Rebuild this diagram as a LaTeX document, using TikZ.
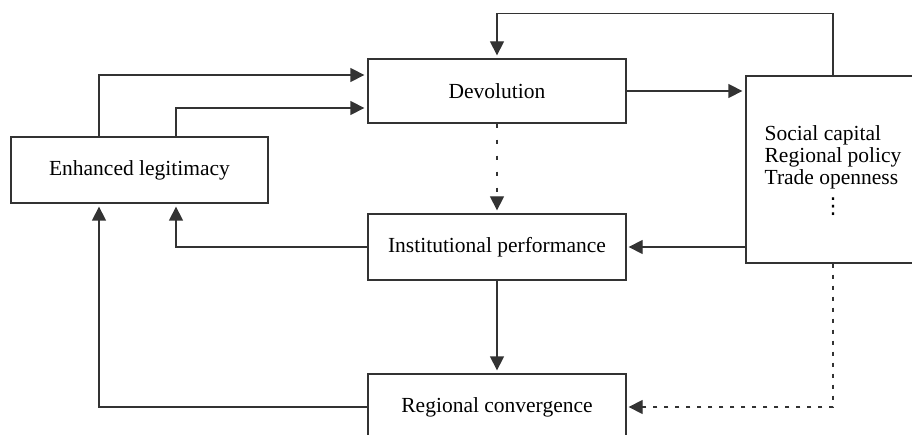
\documentclass[tikz,border=0pt]{standalone}
\usepackage{fontspec}
\setmainfont{Liberation Serif}
\newfontfamily\symfont{DejaVu Sans}
\usepackage{tikz}
\usetikzlibrary{arrows.meta}
\newcommand{\tallvdots}{{\symfont\fontsize{22}{22}\selectfont ⋮}}

\begin{document}
\begin{tikzpicture}[x=1pt,y=-1pt,line width=1.3pt,
  box/.style={draw=black!80,inner sep=0pt,font=\fontsize{21.5}{22}\selectfont},
  arr/.style={draw=black!80,-{Triangle[length=14pt,width=14pt]},shorten >=3pt}]
\useasboundingbox (0,0) rectangle (912,435);
\clip (0,0) rectangle (912,435);
% boxes
\node[box,minimum width=257pt,minimum height=66pt] (leg) at (139.5,170) {Enhanced legitimacy};
\node[box,minimum width=258pt,minimum height=64pt] (dev) at (497,91) {Devolution};
\node[box,minimum width=258pt,minimum height=66pt] (inst) at (497,247) {Institutional performance};
\node[box,minimum width=258pt,minimum height=66pt] (conv) at (497,407) {Regional convergence};
\node[box,minimum width=174pt,minimum height=187pt] (fac) at (833,169.5)
  {\begin{tabular}{@{}l@{}}\noalign{\vskip6pt}Social capital\\ Regional policy\\ Trade openness\\[7pt] \multicolumn{1}{@{}c@{}}{\tallvdots}\end{tabular}};
% connectors
\draw[arr] ([xshift=-40.5pt]leg.north) |- ([yshift=16pt]dev.west);
\draw[arr] ([xshift=36.5pt]leg.north) |- ([yshift=-17pt]dev.west);
\draw[arr] (dev.east) -- (dev.east -| fac.west);
\draw[arr] (fac.north) -- ++(0,-62) -| (dev.north);
\draw[arr,dash pattern=on 4pt off 12pt] (dev.south) -- (inst.north);
\draw[arr,shorten >=2pt] (fac.west |- inst.east) -- (inst.east);
\draw[arr] (inst.west) -| ([xshift=36.5pt]leg.south);
\draw[arr] (inst.south) -- (conv.north);
\draw[arr] (conv.west) -| ([xshift=-40.5pt]leg.south);
\draw[arr,dash pattern=on 4pt off 7pt,shorten >=2pt] (fac.south) |- (conv.east);
\end{tikzpicture}
\end{document}
